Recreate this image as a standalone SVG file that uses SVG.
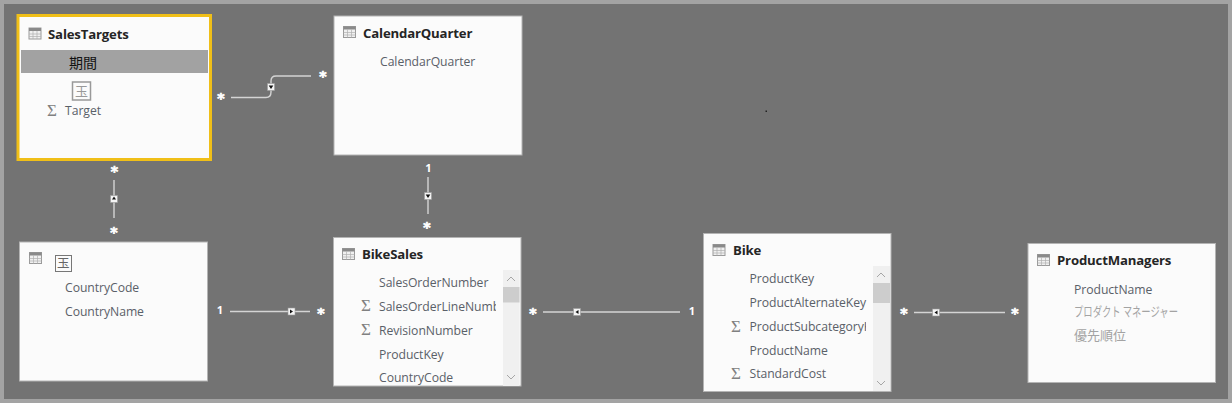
<svg xmlns="http://www.w3.org/2000/svg" width="1232" height="403" viewBox="0 0 1232 403">
<style>
text{font-family:"Open Sans","Noto Sans","Noto Sans CJK JP",sans-serif}
.card{fill:#fbfbfb;stroke:#b4b4b4;stroke-width:1}
.title{font-size:13.2px;font-weight:700;fill:#252525;letter-spacing:-.17px}
.f{font-size:12.2px;fill:#5a6068;letter-spacing:-.05px}
.jp{font-family:"Noto Sans CJK JP",sans-serif;fill:#a3a3a3;font-size:13px}
.sig{font-size:17px;fill:#808080;font-family:"Liberation Serif",serif}
.lbl{font-size:11px;font-weight:700;fill:#fff;text-anchor:middle}
.star{font-size:14px;font-weight:700;fill:#fff;stroke:#fff;stroke-width:.7px;text-anchor:middle;font-family:"DejaVu Sans",sans-serif}
.c{fill:none;stroke:#d4d4d4;stroke-width:1.4}
.track{fill:#f0f0f0}.thumb{fill:#cdcdcd}
.ar{fill:none;stroke:#a6a6a6;stroke-width:1}
.mk{fill:#f4f4f4;stroke:#9a9a9a;stroke-width:.6}
</style>
<defs>
<g id="ti"><rect x=".5" y=".5" width="12" height="11" fill="#f0f0f0" stroke="#9a9a9a"/><rect x=".5" y=".5" width="12" height="3" fill="#8a8a8a"/><path d="M.5 6.500h12M.5 9h12M4.500 3.500v8M8.500 3.500v8" stroke="#b0b0b0" stroke-width=".7" fill="none"/></g>
<g id="m"><rect class="mk" x="-3.500" y="-3.500" width="7" height="7"/></g>
<g id="up"><path class="ar" d="M-4 2l4-4 4 4"/></g>
<g id="dn"><path class="ar" d="M-4-2l4 4 4-4"/></g>
<clipPath id="c1"><rect x="370" y="295" width="126" height="24"/></clipPath>
<clipPath id="c2"><rect x="740" y="315" width="126" height="24"/></clipPath>
</defs>
<rect width="1232" height="403" fill="#a3a3a3"/>
<rect x="4" y="4" width="1224" height="395" fill="#737373"/>
<rect x="765.500" y="110.500" width="1.500" height="1.500" fill="#222"/>

<g id="connectors">
<path class="c" d="M231 97.500H266Q271 97.500 271 92V81Q271 76 276 76H311"/>
<use href="#m" x="271" y="87"/><path d="M268.700 85.500h4.600l-2.300 3.500z" fill="#111"/>
<path class="c" d="M114 180V218"/><use href="#m" x="114" y="199"/><path d="M112 199.500h4l-2-3z" fill="#111"/>
<path class="c" d="M230 311.500H310"/><use href="#m" x="291.500" y="311.500"/><path d="M290 309.500v4l3-2z" fill="#111"/>
<path class="c" d="M428 177V214"/><use href="#m" x="428" y="196"/><path d="M425.700 194.500h4.600l-2.300 3.500z" fill="#111"/>
<path class="c" d="M543 312H680"/><use href="#m" x="577" y="312"/><path d="M578.500 310v4l-3-2z" fill="#111"/>
<path class="c" d="M914 312.500H1005"/><use href="#m" x="936" y="312.500"/><path d="M937.500 310.500v4l-3-2z" fill="#111"/>
<text class="star" x="221" y="103">*</text><text class="star" x="323" y="81">*</text>
<text class="star" x="114.500" y="176">*</text><text class="star" x="114" y="237">*</text>
<text class="lbl" x="220" y="314">1</text><text class="star" x="321" y="318">*</text>
<text class="lbl" x="428.500" y="172">1</text><text class="star" x="427" y="232">*</text>
<text class="star" x="533" y="318">*</text><text class="lbl" x="692" y="315">1</text>
<text class="star" x="904" y="318">*</text><text class="star" x="1015" y="318">*</text>
</g>

<g id="SalesTargets">
<rect x="18" y="15.500" width="192.500" height="144" fill="#fbfbfb" stroke="#f0bf18" stroke-width="3"/>
<use href="#ti" x="28.500" y="27.500"/>
<text class="title" x="48" y="38.500">SalesTargets</text>
<rect x="21" y="50" width="187" height="23" fill="#a2a2a2"/>
<text x="69" y="67.500" font-size="14" fill="#111" style="font-family:'Noto Sans CJK JP',sans-serif">期間</text>
<rect x="72.500" y="82" width="18" height="18" fill="#fbfbfb" stroke="#999" stroke-width="1.500"/>
<text x="75" y="96" font-size="13" fill="#999" style="font-family:'Noto Sans CJK JP',sans-serif">玉</text>
<text class="sig" x="47" y="116">Σ</text>
<text class="f" x="65" y="115">Target</text>
</g>

<g id="CalendarQuarter">
<rect class="card" x="334" y="16" width="188" height="139"/>
<use href="#ti" x="343" y="26"/>
<text class="title" x="363" y="38">CalendarQuarter</text>
<text class="f" x="380" y="65.500">CalendarQuarter</text>
</g>

<g id="CountryTable">
<rect class="card" x="19.500" y="242" width="188" height="139"/>
<use href="#ti" x="29" y="252"/>
<rect x="55.500" y="255.500" width="16" height="16" fill="#fbfbfb" stroke="#777"/>
<text x="57" y="268" font-size="12.500" fill="#666" style="font-family:'Noto Sans CJK JP',sans-serif">玉</text>
<text class="f" x="65" y="292">CountryCode</text>
<text class="f" x="65" y="316">CountryName</text>
</g>

<g id="BikeSales">
<rect class="card" x="333.500" y="237.500" width="187.500" height="148.500"/>
<use href="#ti" x="342" y="248"/>
<text class="title" x="362" y="259">BikeSales</text>
<rect class="track" x="503" y="270" width="16.500" height="116"/>
<rect class="thumb" x="503" y="287" width="16.500" height="15.500"/>
<use href="#up" x="511" y="279"/><use href="#dn" x="511" y="377"/>
<text class="f" x="379" y="287">SalesOrderNumber</text>
<text class="sig" x="361" y="311">Σ</text>
<text class="f" x="379" y="311" clip-path="url(#c1)">SalesOrderLineNumber</text>
<text class="sig" x="361" y="335">Σ</text>
<text class="f" x="379" y="334.500">RevisionNumber</text>
<text class="f" x="379" y="358.500">ProductKey</text>
<text class="f" x="379" y="382">CountryCode</text>
</g>

<g id="Bike">
<rect class="card" x="703.500" y="233.500" width="187.500" height="158"/>
<use href="#ti" x="712.500" y="244"/>
<text class="title" x="733" y="255">Bike</text>
<rect class="track" x="873" y="266" width="17" height="125"/>
<rect class="thumb" x="873" y="283" width="17" height="20"/>
<use href="#up" x="881" y="275"/><use href="#dn" x="881" y="383"/>
<text class="f" x="749.500" y="283">ProductKey</text>
<text class="f" x="749.500" y="307">ProductAlternateKey</text>
<text class="sig" x="731" y="332">Σ</text>
<text class="f" x="749.500" y="331" clip-path="url(#c2)">ProductSubcategoryKey</text>
<text class="f" x="749.500" y="354.500">ProductName</text>
<text class="sig" x="731" y="379">Σ</text>
<text class="f" x="749.500" y="378">StandardCost</text>
</g>

<g id="ProductManagers">
<rect class="card" x="1028" y="243.500" width="187.500" height="139"/>
<use href="#ti" x="1037" y="254"/>
<text class="title" x="1057" y="265">ProductManagers</text>
<text class="f" x="1074" y="294">ProductName</text>
<text class="jp" x="1074" y="316" textLength="104" lengthAdjust="spacingAndGlyphs">プロダクト マネージャー</text>
<text class="jp" x="1074" y="340">優先順位</text>
</g>
</svg>
